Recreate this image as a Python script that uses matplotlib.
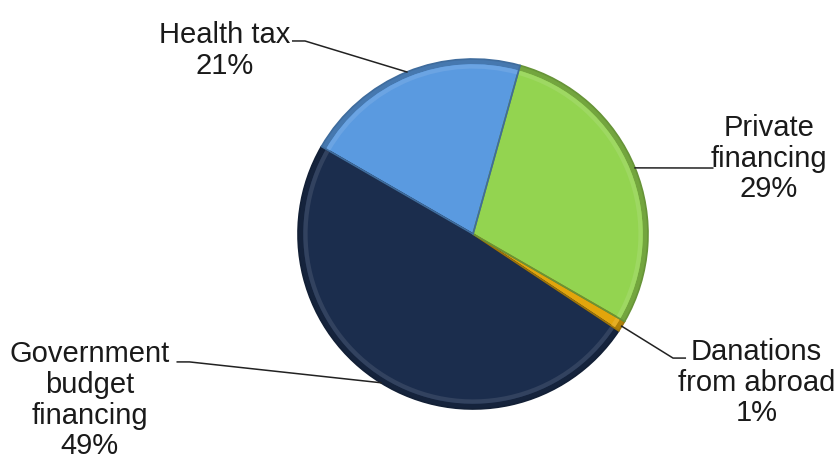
import numpy as np
import matplotlib.pyplot as plt
from matplotlib.colors import to_rgb
from matplotlib.patches import Wedge

plt.rcParams['font.family'] = ['Liberation Sans', 'DejaVu Sans']

# slices in drawing order (counter-clockwise from the start angle)
labels = ['Government\nbudget\nfinancing', 'Danations\nfrom abroad',
          'Private\nfinancing', 'Health tax']
shares = [49, 1, 29, 21]
colors = ['#1B2D4D', '#E2A50C', '#93D450', '#5A9AE0']

# label block centres and leader elbows, in pie-radius units
text_pos = [(-2.19, -0.95), (1.62, -0.85), (1.69, 0.43), (-1.42, 1.05)]
elbow_pos = [(-1.62, -0.731), (1.143, -0.709), (1.37, 0.377), (-0.96, 1.103)]
elbow_dir = [-1, 1, 0, -1]

START = 150


def shade(c, f):
    r, g, b = to_rgb(c)
    if f < 0:
        return (r * (1 + f), g * (1 + f), b * (1 + f))
    return (r + (1 - r) * f, g + (1 - g) * f, b + (1 - b) * f)


fig = plt.figure(figsize=(8.38, 4.62), dpi=100)
cx, cy, rad = 473, 234, 175
ax = fig.add_axes([(cx - rad) / 838, (462 - cy - rad) / 462, 2 * rad / 838, 2 * rad / 462])

wedges, _ = ax.pie(shares, colors=colors, startangle=START, counterclock=True,
                   radius=1.0, wedgeprops=dict(linewidth=0))
for w in wedges:
    w.set_clip_on(False)

# bevel look: soft dark outer rim, light inner band, darker radial borders
for w, c in zip(wedges, colors):
    t1, t2 = w.theta1, w.theta2
    for p in (Wedge((0, 0), 1.0, t1, t2, width=0.03,
                    facecolor=shade(c, -0.22), edgecolor='none'),
              Wedge((0, 0), 0.97, t1, t2, width=0.025,
                    facecolor=shade(c, 0.1), edgecolor='none'),
              Wedge((0, 0), 1.0, t1, t2, facecolor='none',
                    edgecolor=shade(c, -0.3), linewidth=1.2)):
        p.set_clip_on(False)
        ax.add_patch(p)

for w, lab, s, tp, ep, d in zip(wedges, labels, shares, text_pos, elbow_pos, elbow_dir):
    mid = np.deg2rad((w.theta1 + w.theta2) / 2)
    xs = [np.cos(mid), ep[0]]
    ys = [np.sin(mid), ep[1]]
    if d != 0:
        xs.append(ep[0] + d * 0.07)
        ys.append(ep[1])
    ax.plot(xs, ys, color='#222222', lw=1.1, clip_on=False)
    ax.text(tp[0], tp[1], f'{lab}\n{s}%', ha='center', va='center',
            fontsize=21, color='#1a1a1a', linespacing=1.12)

ax.set_xlim(-1, 1)
ax.set_ylim(-1, 1)
ax.set_aspect('equal')
ax.axis('off')

fig.savefig('out.png', dpi=100)
